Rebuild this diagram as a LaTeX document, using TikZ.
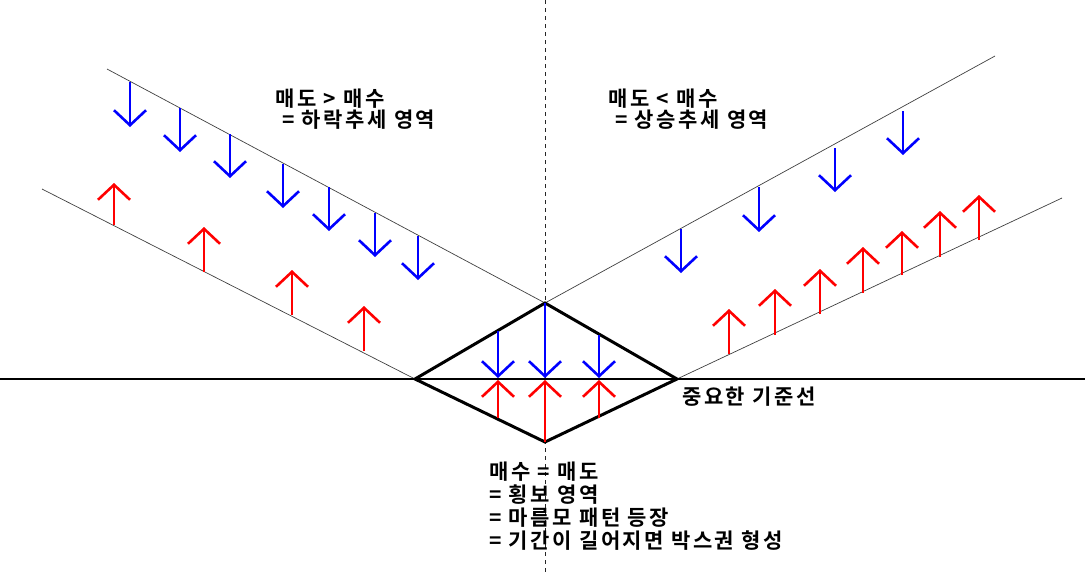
\documentclass[tikz,border=0pt]{standalone}
\usepackage{fontspec}
\newfontfamily\krbold{Noto Sans CJK KR Bold}[LetterSpace=12]
\usetikzlibrary{arrows.meta}
\begin{document}
\begin{tikzpicture}[x=1pt,y=-1pt,
  thinline/.style={line width=0.7pt, black!75},
  dn/.style={blue, line width=2.6pt, -{Straight Barb[length=15pt,width=32pt,line width=2.6pt]}},
  up/.style={red, line width=2.6pt, -{Straight Barb[length=15pt,width=32pt,line width=2.6pt]}},
  lbl/.style={anchor=base west, inner sep=0pt, font=\krbold\fontsize{21}{23}\selectfont}]
\useasboundingbox (0,0) rectangle (1085,574);
% dashed vertical
\draw[line width=1pt, black!85, dash pattern=on 4pt off 4pt] (545,0) -- (545,574);
% key points
\coordinate (L) at (415,379);
\coordinate (T) at (545,303);
\coordinate (R) at (677,379);
\coordinate (B) at (545,442);
\coordinate (ulA) at (107,69);
\coordinate (llA) at (42,189);
\coordinate (urB) at (995,56);
\coordinate (lrB) at (1062,198);
\coordinate (h0) at (0,379);
\coordinate (h1) at (1085,379);
% channel lines
\draw[thinline] (ulA) -- (T);
\draw[thinline] (llA) -- (L);
\draw[thinline] (T) -- (urB);
\draw[thinline] (R) -- (lrB);
% baseline
\draw[line width=2pt] (h0) -- (h1);
% diamond
\draw[line width=3pt, line join=miter] (L) -- (T) -- (R) -- (B) -- cycle;
% upper-left blue
\foreach \x/\a/\b in {130/82/127,180/108/152,230/134/178,283/164/208,329/187/231,375/213/257,418/236/280}
  \draw[dn] (\x,\a) -- (\x,\b);
% lower-left red
\foreach \x/\a/\b in {114/225/183,204/272/227,292/315/270,364/351/306}
  \draw[up] (\x,\a) -- (\x,\b);
% upper-right blue
\foreach \x/\a/\b in {681/229/273,759/187/232,835/148/192,903/111/155}
  \draw[dn] (\x,\a) -- (\x,\b);
% lower-right red
\foreach \x/\a/\b in {729/354/309,775/335/289,820/314/269,863/293/247,902/275/231,940/257/211,979/240/195}
  \draw[up] (\x,\a) -- (\x,\b);
% diamond arrows
\foreach \x/\a in {498/331,545/303,599/335}
  \draw[dn] (\x,\a) -- (\x,378);
\foreach \x/\a in {498/418,545/442,599/418}
  \draw[up] (\x,\a) -- (\x,380);
% texts
\node[lbl] (t1) at (275,106) {매도 > 매수};
\node[lbl] (t2) at (282,127) {= 하락추세 영역};
\node[lbl] (t3) at (608,106) {매도 < 매수};
\node[lbl] (t4) at (615,127) {= 상승추세 영역};
\node[lbl] (t5) at (682,404) {중요한 기준선};
\node[lbl] (b1) at (489,479) {매수 = 매도};
\node[lbl] (b2) at (489,502) {= 횡보 영역};
\node[lbl] (b3) at (489,525) {= 마름모 패턴 등장};
\node[lbl] (b4) at (489,548) {= 기간이 길어지면 박스권 형성};
\end{tikzpicture}
\end{document}
